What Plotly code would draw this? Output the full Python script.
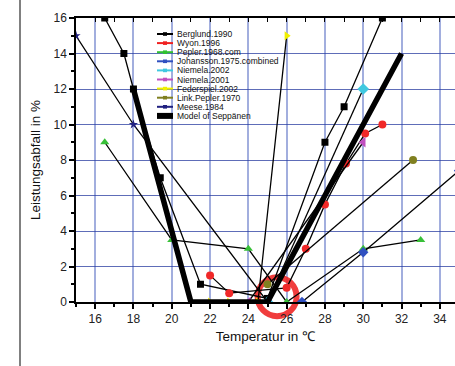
import plotly.graph_objects as go

# ---------------- data ----------------
berglund_x = [16.5, 17.5, 18, 19.4, 21.5, 25, 28, 29, 31]
berglund_y = [16, 14, 12, 7, 1, 0.2, 9, 11, 16]

wyon_x = [22, 23, 26, 27, 28, 29.1, 30.1, 31]
wyon_y = [1.5, 0.5, 0.8, 3, 5.5, 7.8, 9.5, 10]

pepler_x = [16.5, 20, 24, 26, 30, 33]
pepler_y = [9, 3.5, 3, 0, 3, 3.5]

johansson_x = [26.8, 30, 35]
johansson_y = [0, 2.8, 7.4]

niemela02_x = [25, 30]
niemela02_y = [0, 12]

niemela01_x = [24, 30]
niemela01_y = [0, 9]

federspiel_x = [22, 23, 24.5, 26]
federspiel_y = [0, 0, 0, 15]

linkpepler_x = [25, 32.6]
linkpepler_y = [1, 8]

meese_x = [15, 18, 25]
meese_y = [15, 10, 0]

model_x = [18, 21, 25, 32]
model_y = [12, 0, 0, 14]

highlight_x = [25.5]
highlight_y = [0.3]

x_ticks = [16, 18, 20, 22, 24, 26, 28, 30, 32, 34]
y_ticks = [0, 2, 4, 6, 8, 10, 12, 14, 16]

legend_names = ["Berglund.1990", "Wyon.1996", "Pepler.1968.com", "Johansson.1975.combined",
                "Niemela.2002", "Niemela.2001", "Federspiel.2002", "Link.Pepler.1970",
                "Meese.1984", "Model of Seppänen"]
legend_colors = ["#000000", "#f02020", "#30c030", "#3050c0", "#40c8e0", "#c050c0",
                 "#f0f000", "#808020", "#202080", "#000000"]

# ---------------- layout geometry ----------------
W, H = 455, 366
ML, MT, MB, MR = 76, 18, 64, 0
PW = W - ML - MR
PH = H - MT - MB


def px(xp):
    return (xp - ML) / PW


def py(yp):
    return (H - MB - yp) / PH


FONT = "Liberation Sans, Arial, sans-serif"

fig = go.Figure()

# red hand-drawn circle
fig.add_trace(go.Scatter(x=highlight_x, y=highlight_y, mode="markers", cliponaxis=False,
                         marker=dict(symbol="circle-open", size=39, color="rgba(238,40,40,0.9)",
                                     line=dict(color="rgba(238,40,40,0.9)", width=6)),
                         showlegend=False, hoverinfo="skip"))

series = [
    (berglund_x, berglund_y, "square", "#000000", 7),
    (wyon_x, wyon_y, "circle", "#f02828", 8),
    (pepler_x, pepler_y, "triangle-up", "#38c038", 8),
    (johansson_x, johansson_y, "diamond", "#3050c0", 8),
    (niemela02_x, niemela02_y, "diamond", "#40c8e0", 9),
    (niemela01_x, niemela01_y, "triangle-left", "#c050c0", 9),
    (federspiel_x, federspiel_y, "triangle-right", "#f0f000", 8),
    (linkpepler_x, linkpepler_y, "circle", "#808020", 8),
    (meese_x, meese_y, "star", "#202080", 7),
]
for sx, sy, sym, col, sz in series:
    fig.add_trace(go.Scatter(x=sx, y=sy, mode="lines+markers", xaxis="x2",
                             line=dict(color="black", width=1.3),
                             marker=dict(symbol=sym, color=col, size=sz, line=dict(width=0)),
                             showlegend=False, hoverinfo="skip"))

fig.add_trace(go.Scatter(x=model_x, y=model_y, mode="lines", xaxis="x2",
                         line=dict(color="black", width=5.5),
                         showlegend=False, hoverinfo="skip"))

# ---------------- manual legend ----------------
shapes = []
annotations = []
for i, (name, col) in enumerate(zip(legend_names, legend_colors)):
    yc = 34 + i * 9.1
    if i == len(legend_names) - 1:
        shapes.append(dict(type="rect", xref="paper", yref="paper",
                           x0=px(157), x1=px(173), y0=py(yc + 3), y1=py(yc - 3),
                           fillcolor="black", line=dict(width=0)))
    else:
        shapes.append(dict(type="line", xref="paper", yref="paper",
                           x0=px(157), x1=px(173), y0=py(yc), y1=py(yc),
                           line=dict(color=col, width=2)))
        shapes.append(dict(type="rect", xref="paper", yref="paper",
                           x0=px(163), x1=px(167), y0=py(yc + 1.8), y1=py(yc - 1.8),
                           fillcolor=col, line=dict(width=0)))
    annotations.append(dict(text=name, xref="paper", yref="paper", x=px(175), y=py(yc),
                            xanchor="left", yanchor="middle", showarrow=False,
                            font=dict(family=FONT, size=8.5, color="#111")))

# page border line at left
shapes.append(dict(type="line", xref="paper", yref="paper",
                   x0=px(20), x1=px(20), y0=py(H), y1=py(0),
                   line=dict(color="#808080", width=2)))

x_range = [15, 15 + PW / 19.15]

fig.update_layout(
    width=W, height=H,
    margin=dict(l=ML, r=MR, t=MT, b=MB, autoexpand=False),
    paper_bgcolor="white", plot_bgcolor="white",
    font=dict(family=FONT, color="#222"),
    shapes=shapes, annotations=annotations,
    xaxis=dict(range=x_range, tickvals=x_ticks, showline=True, linecolor="black", linewidth=2,
               automargin=False,
               ticks="outside", ticklen=5, tickwidth=1.5, tickcolor="black",
               minor=dict(ticks="outside", ticklen=3, dtick=1, tick0=0, tickcolor="black",
                          showgrid=False),
               showgrid=True, gridcolor="rgba(100,120,200,0.6)", gridwidth=2, zeroline=False,
               tickfont=dict(size=12, color="#222"),
               title=dict(text="Temperatur in ℃", font=dict(size=13.5, color="#111"), standoff=6)),
    xaxis2=dict(range=x_range, overlaying="x", side="top", showline=True, linecolor="black",
                automargin=False,
                linewidth=1.5, ticks="inside", ticklen=4, tickwidth=1.2, tickcolor="black",
                dtick=1, tick0=0, showticklabels=False, showgrid=False, zeroline=False),
    yaxis=dict(range=[0, 16], tickvals=y_ticks, showline=True, linecolor="black", linewidth=1.5,
               automargin=False,
               ticks="outside", ticklen=5, tickwidth=1.5, tickcolor="black",
               minor=dict(ticks="outside", ticklen=3, dtick=1, tick0=0, tickcolor="black",
                          showgrid=False),
               showgrid=True, gridcolor="rgba(40,60,160,0.75)", gridwidth=1.3, zeroline=False,
               tickfont=dict(size=12, color="#222"),
               title=dict(text="Leistungsabfall in %", font=dict(size=13.5, color="#111"), standoff=10)),
)

fig.write_html("out.html", config={"displayModeBar": False},
               post_script="document.body.style.margin='0px';document.body.style.padding='0px';")
